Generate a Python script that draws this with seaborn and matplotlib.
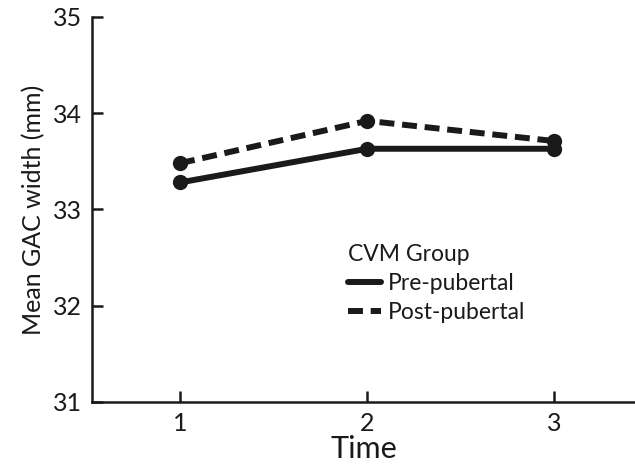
import pandas as pd
import matplotlib
matplotlib.use("Agg")
import matplotlib.pyplot as plt
import seaborn as sns
import matplotlib.lines as mlines

times = [1, 2, 3]
pre_pubertal = [33.28, 33.63, 33.63]
post_pubertal = [33.48, 33.92, 33.71]
groups = ["Pre-pubertal", "Post-pubertal"]

df = pd.DataFrame({
    "Time": times * 2,
    "width": pre_pubertal + post_pubertal,
    "group": [groups[0]] * 3 + [groups[1]] * 3,
})

sns.set_style("ticks")
plt.rcParams["font.family"] = ["Lato", "DejaVu Sans"]
ink = "#1a1a1a"

fig = plt.figure(figsize=(6.35, 4.69), dpi=100)
ax = fig.add_axes([0.145, 0.143, 0.855, 0.821])

dash_map = {groups[0]: "", groups[1]: (2.5, 1.3)}
sns.lineplot(data=df, x="Time", y="width", style="group", dashes=dash_map,
             color=ink, linewidth=4.3, marker="o", markersize=11,
             markeredgewidth=0, legend=False, ax=ax)

ax.set_xlim(0.53, 3.43)
ax.set_ylim(31, 35)
ax.set_xticks(times)
ax.set_yticks([31, 32, 33, 34, 35])
ax.tick_params(direction="in", length=8, width=1.8, labelsize=18, colors=ink, pad=7)
for s in ["top", "right"]:
    ax.spines[s].set_visible(False)
for s in ["left", "bottom"]:
    ax.spines[s].set_linewidth(1.8)
    ax.spines[s].set_color(ink)

ax.set_xlabel("Time", fontsize=22, color=ink, labelpad=0)
ax.set_ylabel("Mean GAC width (mm)", fontsize=18, color=ink, labelpad=6)

handles = [
    mlines.Line2D([], [], color=ink, linewidth=4.3, linestyle="-"),
    mlines.Line2D([], [], color=ink, linewidth=4.3, dashes=(2.5, 1.3)),
]
leg = ax.legend(handles, groups, title="CVM Group", frameon=False,
                loc="upper left", bbox_to_anchor=(0.548, 0.48),
                bbox_transform=fig.transFigure, fontsize=16.5, title_fontsize=16.5,
                handlelength=1.45, handletextpad=0.3, labelspacing=0.35,
                borderpad=0, borderaxespad=0)
leg._legend_box.align = "left"
for t in leg.get_texts() + [leg.get_title()]:
    t.set_color(ink)

fig.savefig("out.png", dpi=100)
